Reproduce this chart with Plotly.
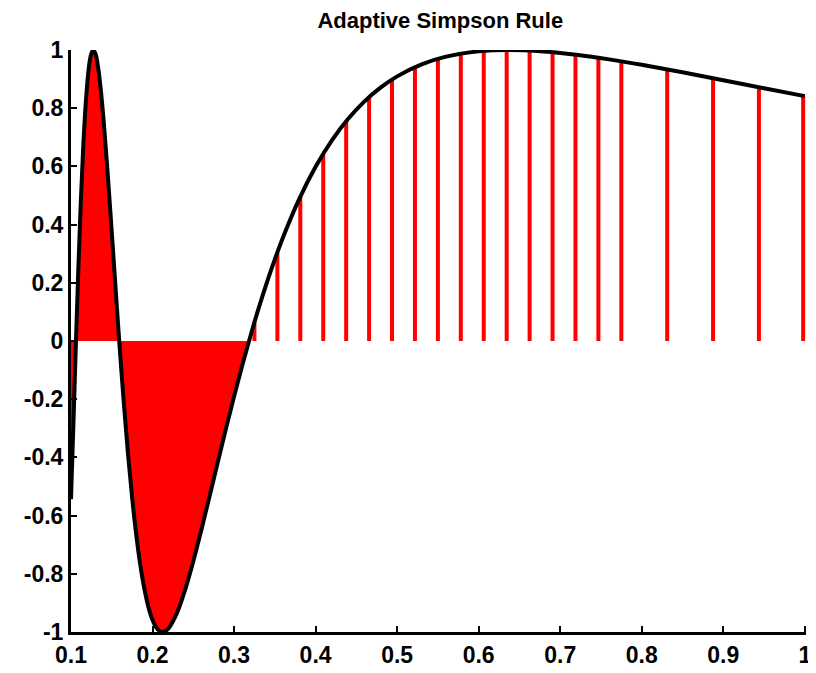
import plotly.graph_objects as go

# Curve f(x)
curve_x = [0.100, 0.103, 0.106, 0.109, 0.112, 0.115, 0.118, 0.121, 0.124, 0.127,
           0.130, 0.133, 0.136, 0.140, 0.144, 0.148, 0.152, 0.156, 0.160, 0.165,
           0.170, 0.175, 0.180, 0.185, 0.190, 0.195, 0.200, 0.205, 0.210, 0.215,
           0.220, 0.230, 0.240, 0.250, 0.260, 0.270, 0.280, 0.290, 0.300, 0.310,
           0.320, 0.330, 0.340, 0.350, 0.360, 0.380, 0.400, 0.420, 0.440, 0.460,
           0.480, 0.500, 0.530, 0.560, 0.600, 0.637, 0.680, 0.720, 0.760, 0.800,
           0.850, 0.900, 0.950, 1.000]
curve_y = [-0.5440, -0.2801, -0.0092, 0.2479, 0.4761, 0.6663, 0.8136, 0.9168, 0.9780, 0.9998,
           0.9870, 0.9445, 0.8777, 0.7577, 0.6140, 0.4561, 0.2914, 0.1268, -0.0332, -0.2208,
           -0.3902, -0.5386, -0.6651, -0.7696, -0.8521, -0.9147, -0.9589, -0.9862, -0.9988, -0.9981,
           -0.9861, -0.9345, -0.8549, -0.7568, -0.6477, -0.5330, -0.4167, -0.3019, -0.1906, -0.0841,
           0.0166, 0.1111, 0.1991, 0.2807, 0.3558, 0.4882, 0.5985, 0.6894, 0.7636, 0.8234,
           0.8713, 0.9093, 0.9506, 0.9771, 0.9954, 1.0000, 0.9949, 0.9835, 0.9678, 0.9490,
           0.9233, 0.8961, 0.8686, 0.8415]

# Dense (filled) region end
dense_end = 0.32

# Adaptive Simpson nodes (stems) beyond the dense region
stem_x = [0.325, 0.353125, 0.38125, 0.409375, 0.4375, 0.465625, 0.49375, 0.521875,
          0.55, 0.578125, 0.60625, 0.634375, 0.6625, 0.690625, 0.71875, 0.746875,
          0.775, 0.83125, 0.8875, 0.94375, 0.998]
stem_y = [0.0646, 0.3048, 0.4956, 0.6434, 0.7551, 0.8378, 0.8984, 0.9410,
          0.9696, 0.9873, 0.9969, 1.0000, 0.9981, 0.9923, 0.9840, 0.9735,
          0.9610, 0.9330, 0.9029, 0.8722, 0.8415]

x_ticks = [0.1, 0.2, 0.3, 0.4, 0.5, 0.6, 0.7, 0.8, 0.9, 1]
x_tick_text = ["0.1", "0.2", "0.3", "0.4", "0.5", "0.6", "0.7", "0.8", "0.9", "1"]
y_ticks = [-1, -0.8, -0.6, -0.4, -0.2, 0, 0.2, 0.4, 0.6, 0.8, 1]
y_tick_text = ["-1", "-0.8", "-0.6", "-0.4", "-0.2", "0", "0.2", "0.4", "0.6", "0.8", "1"]

fig = go.Figure()

# filled dense region
fx = [x for x in curve_x if x <= dense_end]
fy = [y for x, y in zip(curve_x, curve_y) if x <= dense_end]
fig.add_trace(go.Scatter(x=fx, y=fy, mode="lines", fill="tozeroy",
                         fillcolor="#ff0000", line=dict(color="#ff0000", width=0),
                         hoverinfo="skip", showlegend=False))

# stems
sx, sy = [], []
for x, y in zip(stem_x, stem_y):
    sx += [x, x, None]
    sy += [0, y, None]
fig.add_trace(go.Scatter(x=sx, y=sy, mode="lines",
                         line=dict(color="#ff0000", width=4), showlegend=False))

# curve
fig.add_trace(go.Scatter(x=curve_x, y=curve_y, mode="lines", line_shape="spline",
                         line=dict(color="black", width=4), showlegend=False))

tick_font = dict(family="Liberation Sans, Arial, sans-serif", size=23, color="black", weight="bold")

fig.update_layout(
    width=808, height=665,
    margin=dict(l=63, r=5, t=42, b=39),
    paper_bgcolor="white", plot_bgcolor="white",
    title=dict(text="Adaptive Simpson Rule", x=0.535, xanchor="center", y=0.982, yanchor="middle",
               font=dict(family="Liberation Sans, Arial, sans-serif", size=22, color="black", weight="bold")),
    xaxis=dict(range=[0.1, 1.0015], tickvals=x_ticks, ticktext=x_tick_text, ticks="inside",
               ticklen=6, tickwidth=2, tickcolor="black", showline=True, linecolor="black",
               linewidth=3, showgrid=False, zeroline=False, tickfont=tick_font, mirror=False,
               ticklabeloverflow="allow"),
    yaxis=dict(range=[-1, 1], tickvals=y_ticks, ticktext=y_tick_text, ticks="inside",
               ticklen=6, tickwidth=2, tickcolor="black", showline=True, linecolor="black",
               linewidth=3, showgrid=False, zeroline=False, tickfont=tick_font, mirror=False,
               ticklabeloverflow="allow"),
)

fig.write_html("out.html")
